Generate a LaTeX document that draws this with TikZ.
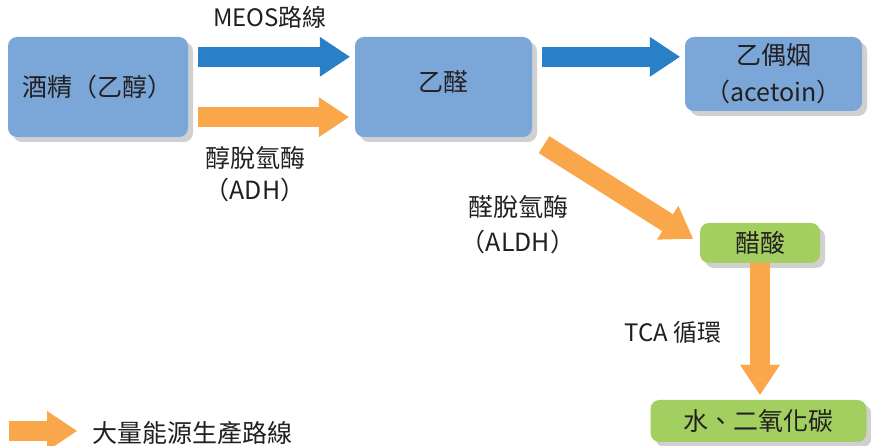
\documentclass[tikz,border=0pt]{standalone}
\usepackage{fontspec}
\setmainfont{Noto Sans CJK TC}
\usetikzlibrary{arrows.meta,shadows,calc}
\definecolor{boxblue}{RGB}{123,166,216}
\definecolor{boxgreen}{RGB}{163,206,96}
\definecolor{arrowblue}{RGB}{41,128,198}
\definecolor{arroworange}{RGB}{250,166,74}
\definecolor{shadowgray}{RGB}{208,208,208}
\definecolor{txt}{RGB}{35,31,32}
\begin{document}
\begin{tikzpicture}[x=1pt,y=-1pt,
  box/.style={rounded corners=9pt, inner sep=0pt, text=txt, align=center,
    font=\fontsize{25}{37}\selectfont,
    drop shadow={shadow xshift=5pt,shadow yshift=-5pt,fill=shadowgray,opacity=1}},
  bluebox/.style={box, fill=boxblue},
  greenbox/.style={box, fill=boxgreen},
  blk/.style={line width=20pt, -{Triangle[width=40pt,length=30pt,line width=0pt]}},
  bluearrow/.style={blk, draw=arrowblue},
  orangearrow/.style={blk, draw=arroworange},
  lbl/.style={text=txt, align=center, inner sep=0pt, font=\fontsize{24}{33}\selectfont}]
\useasboundingbox (0,0) rectangle (871,446);
\fill[white] (0,0) rectangle (871,446);
% boxes
\node[bluebox, minimum width=180pt, minimum height=100pt] (b1) at (98,87) {酒精（乙醇）};
\node[bluebox, minimum width=177pt, minimum height=100pt] (b2) at (443.5,87) {\raisebox{5pt}[\height][\depth]{乙醛}};
\node[bluebox, minimum width=177pt, minimum height=74pt] (b3) at (773.5,74) {乙偶姻\\（acetoin）};
\node[greenbox, minimum width=120pt, minimum height=40pt] (b5) at (760,243) {醋酸};
\node[greenbox, minimum width=216pt, minimum height=42pt] (b6) at (758.5,421) {水、二氧化碳};
% labels
\node[lbl] (l1) at (270,17) {MEOS路線};
\node[lbl, font=\fontsize{25}{32}\selectfont] (l2) at (255,174) {醇脫氫酶\\（ADH）};
\node[lbl, font=\fontsize{25}{35}\selectfont] (l3) at (518,225) {醛脫氫酶\\（ALDH）};
\node[lbl] (l4) at (673,332) {TCA 循環};
% arrows
\draw[bluearrow, shorten <=10pt, shorten >=5pt] ([yshift=-20pt]b1.north east) -- ([yshift=-20pt]b2.north west);
\draw[orangearrow, shorten <=10pt, shorten >=6pt] ([yshift=20pt]b1.south east) -- ([yshift=20pt]b2.south west);
\draw[bluearrow, shorten <=10pt, shorten >=5pt] ([yshift=-20pt]b2.north east) -- ([yshift=-20pt]b3.north west);
\draw[orangearrow, shorten <=14pt, shorten >=8pt] (b2.south east) -- (b5.west);
\draw[orangearrow, shorten >=5pt] (b5.south) -- (b5.south |- b6.north);
% legend
\coordinate (lg) at (9,431);
\node[lbl, anchor=west, font=\fontsize{25}{30}\selectfont] (lt) at (92,433) {大量能源生產路線};
\draw[orangearrow, shorten >=15pt] (lg) -- (lg -| lt.west);
\end{tikzpicture}
\end{document}
